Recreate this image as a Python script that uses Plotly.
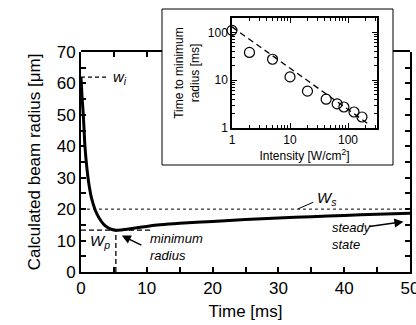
import plotly.graph_objects as go

# ---- main curve data ----
time_ms = [0, 0.15, 0.35, 0.6, 0.9, 1.2, 1.6, 2.2, 2.8, 3.4, 4.0, 4.6, 5.3, 6, 7, 8,
           10, 12, 15, 20, 25, 30, 35, 40, 45, 50]
radius_um = [62, 56, 50, 40, 33, 28, 23.5, 19.5, 17, 15.3, 14.2, 13.6, 13.3, 13.35, 13.6, 13.9,
             14.5, 15.0, 15.5, 16.1, 16.7, 17.2, 17.6, 18.0, 18.4, 18.7]
w_i = 62
w_s = 20
w_p = 13.3
t_min = 5.3

# ---- inset data ----
intensity = [1, 2, 5, 10, 20, 42, 65, 85, 127, 174]
time_to_min = [110, 38, 27.4, 11.7, 5.9, 4.0, 3.2, 2.75, 2.16, 1.7]
fit_x = [1, 215]
fit_y = [130, 1.26]

FONT = "Liberation Sans, Arial, sans-serif"

fig = go.Figure()

# main curve
fig.add_trace(go.Scatter(x=time_ms, y=radius_um, mode="lines",
                         line=dict(color="black", width=3, shape="spline", smoothing=0.6),
                         xaxis="x", yaxis="y", showlegend=False))
# W_s dotted
fig.add_trace(go.Scatter(x=[0, 50], y=[w_s, w_s], mode="lines",
                         line=dict(color="black", width=1, dash="dot"),
                         xaxis="x", yaxis="y", showlegend=False))
# w_i dashed
fig.add_trace(go.Scatter(x=[0, 3.9], y=[w_i, w_i], mode="lines",
                         line=dict(color="black", width=1.3, dash="4px,3px"),
                         xaxis="x", yaxis="y", showlegend=False))
# W_p dashed horizontal and vertical
fig.add_trace(go.Scatter(x=[0, 10.5], y=[w_p, w_p], mode="lines",
                         line=dict(color="black", width=1.3, dash="5px,3px"),
                         xaxis="x", yaxis="y", showlegend=False))
fig.add_trace(go.Scatter(x=[t_min, t_min], y=[0, w_p], mode="lines",
                         line=dict(color="black", width=1.3, dash="5px,3px"),
                         xaxis="x", yaxis="y", showlegend=False))
# W_s leader
fig.add_trace(go.Scatter(x=[33.0, 35.3], y=[20.1, 22.2], mode="lines",
                         line=dict(color="black", width=1),
                         xaxis="x", yaxis="y", showlegend=False))

# inset fit line and points
fig.add_trace(go.Scatter(x=fit_x, y=fit_y, mode="lines",
                         line=dict(color="black", width=1.3, dash="6px,4px"),
                         xaxis="x2", yaxis="y2", showlegend=False))
fig.add_trace(go.Scatter(x=intensity, y=time_to_min, mode="markers",
                         marker=dict(symbol="circle-open", size=10, color="black",
                                     line=dict(width=1.2, color="black")),
                         xaxis="x2", yaxis="y2", showlegend=False, cliponaxis=False))

# dummy traces to materialise the split top frame line
fig.add_trace(go.Scatter(x=[None], y=[None], xaxis="x3", yaxis="y3", showlegend=False))
fig.add_trace(go.Scatter(x=[None], y=[None], xaxis="x4", yaxis="y3", showlegend=False))

ML, MR, MT, MB = 81, 6, 8, 53
W, H = 416, 325
pw = W - ML - MR
ph = H - MT - MB
main_top = (272 - 52) / ph


def px_x(p):
    return (p - ML) / pw


def px_y(p):
    return (272 - p) / ph


box_l, box_r, box_t, box_b = 162, 393, 9, 165

main_axis = dict(showline=True, linecolor="black", linewidth=2, ticks="inside",
                 ticklen=5, tickwidth=1.5, tickcolor="black", showgrid=False,
                 zeroline=False, automargin=False, ticklabeloverflow="allow",
                 tickfont=dict(size=17, family=FONT, color="black"))

fig.update_layout(
    width=W, height=H,
    margin=dict(l=ML, r=MR, t=MT, b=MB),
    plot_bgcolor="rgba(0,0,0,0)", paper_bgcolor="white",
    font=dict(family=FONT, color="black"),
    xaxis=dict(domain=[0, 1], range=[0, 50], anchor="y", dtick=10,
               minor=dict(dtick=5, ticks="inside", ticklen=5, tickwidth=1.5, tickcolor="black"),
               title=dict(text="Time [ms]", font=dict(size=17), standoff=8),
               **main_axis),
    yaxis=dict(domain=[0, main_top], range=[0, 70], anchor="x", dtick=10, mirror="allticks",
               minor=dict(dtick=5, ticks="inside", ticklen=5, tickwidth=1.5, tickcolor="black"),
               title=dict(text="Calculated beam radius [μm]", font=dict(size=17), standoff=12),
               **main_axis),
    yaxis3=dict(domain=[0, main_top], range=[0, 70], anchor="x3", showline=False,
                ticks="", showticklabels=False, showgrid=False, zeroline=False,
                automargin=False),
    xaxis3=dict(domain=[0, px_x(box_l)], range=[0, px_x(box_l) * 50], anchor="y3", side="top",
                showline=True, linecolor="black", linewidth=2, ticks="inside", ticklen=5,
                tickwidth=1.5, tickcolor="black", dtick=5, showticklabels=False,
                showgrid=False, zeroline=False, automargin=False),
    xaxis4=dict(domain=[px_x(box_r), 1], range=[px_x(box_r) * 50, 50], anchor="y3", side="top",
                showline=True, linecolor="black", linewidth=2, ticks="",
                showticklabels=False, showgrid=False, zeroline=False, automargin=False),
    xaxis2=dict(domain=[px_x(232), px_x(377)], anchor="y2", type="log", range=[0, 2.5],
                showline=True, linecolor="black", linewidth=1.5, mirror="allticks",
                ticks="inside", ticklen=5, tickwidth=1, tickcolor="black",
                tickvals=[1, 10, 100], ticktext=["1", "10", "100"],
                minor=dict(ticks="inside", ticklen=3, tickwidth=1, tickcolor="black", dtick="D1"),
                showgrid=False, zeroline=False, automargin=False,
                tickfont=dict(size=12, family=FONT, color="black"),
                title=dict(text="Intensity [W/cm<sup>2</sup>]", font=dict(size=12), standoff=2)),
    yaxis2=dict(domain=[px_y(128), px_y(18)], anchor="x2", type="log", range=[0, 2.3],
                showline=True, linecolor="black", linewidth=1.5, mirror="allticks",
                ticks="inside", ticklen=5, tickwidth=1, tickcolor="black",
                tickvals=[1, 10, 100], ticktext=["1", "10", "100"],
                minor=dict(ticks="inside", ticklen=3, tickwidth=1, tickcolor="black", dtick="D1"),
                showgrid=False, zeroline=False, automargin=False,
                tickfont=dict(size=12, family=FONT, color="black"),
                title=dict(text="Time to minimum<br>radius [ms]", font=dict(size=12), standoff=6)),
    shapes=[dict(type="rect", xref="paper", yref="paper",
                 x0=px_x(box_l), x1=px_x(box_r), y0=px_y(box_b), y1=px_y(box_t),
                 line=dict(color="black", width=1), fillcolor="white", layer="below")],
)

ann_font = dict(family=FONT, size=13, color="black")
fig.add_annotation(x=4.6, y=62, xref="x", yref="y", text="<i>w<sub>i</sub></i>",
                   showarrow=False, xanchor="left", yanchor="middle",
                   font=dict(family=FONT, size=15, color="black"))
fig.add_annotation(x=35.5, y=23.5, xref="x", yref="y", text="<i>W<sub>s</sub></i>",
                   showarrow=False, xanchor="left", yanchor="middle",
                   font=dict(family=FONT, size=15, color="black"))
fig.add_annotation(x=1.0, y=9.8, xref="x", yref="y", text="<i>W<sub>p</sub></i>",
                   showarrow=False, xanchor="left", yanchor="middle",
                   font=dict(family=FONT, size=15, color="black"))
fig.add_annotation(x=6.2, y=11.6, ax=9.4, ay=8.3, xref="x", yref="y", axref="x", ayref="y",
                   text="", showarrow=True, arrowhead=2, arrowsize=1.2, arrowwidth=1.5,
                   arrowcolor="black")
fig.add_annotation(x=10.2, y=8.0, xref="x", yref="y", text="<i>minimum<br>radius</i>",
                   showarrow=False, xanchor="left", yanchor="middle", align="left",
                   font=ann_font)
fig.add_annotation(x=49.0, y=16.0, ax=43.6, ay=14.4, xref="x", yref="y", axref="x", ayref="y",
                   text="", showarrow=True, arrowhead=2, arrowsize=1.2, arrowwidth=1.5,
                   arrowcolor="black")
fig.add_annotation(x=37.8, y=11.3, xref="x", yref="y", text="<i>steady<br>state</i>",
                   showarrow=False, xanchor="left", yanchor="middle", align="left",
                   font=ann_font)

fig.write_html("out.html", config={"displayModeBar": False},
               post_script="document.body.style.margin='0';document.body.style.overflow='hidden';")
